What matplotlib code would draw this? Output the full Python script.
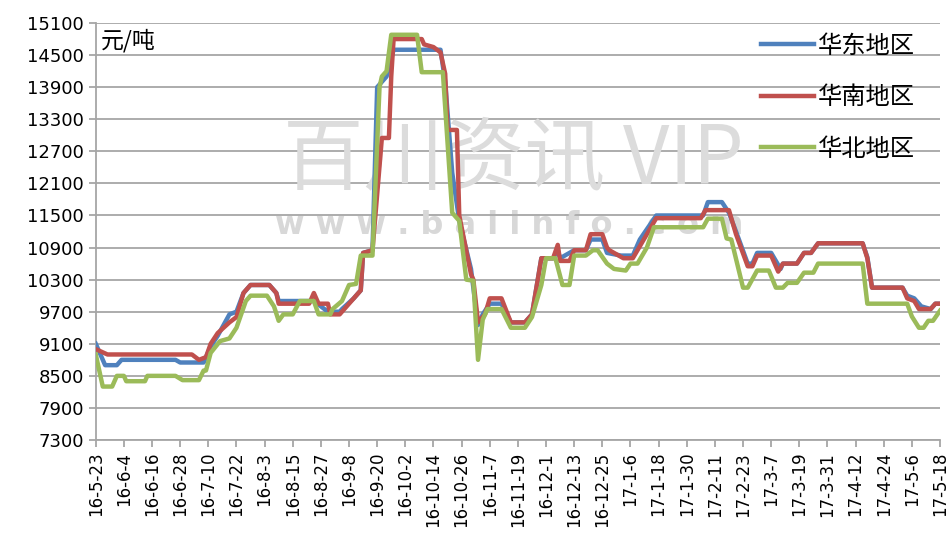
import numpy as np
import pandas as pd
from matplotlib import pyplot as plt

plt.rcParams['font.family'] = ['Noto Sans CJK SC', 'DejaVu Sans']

start = pd.Timestamp('2016-05-23')

# 华东地区: 日数(从16-5-23起), 价格
east_day = [0, 4, 9, 11, 34, 36, 46, 49, 52, 57, 60, 63, 66, 74, 77, 78, 93, 99, 104, 105,
            110, 113, 114, 118, 120, 124, 127, 142, 147, 149, 152, 155, 160, 163, 165, 168,
            173, 177, 183, 186, 190, 195, 197, 198, 202, 204, 209, 211, 216, 218, 224, 229,
            232, 239, 259, 261, 267, 270, 273, 278, 280, 282, 288, 292, 293, 299, 302, 305,
            308, 327, 329, 331, 344, 346, 349, 352, 356, 358, 360]
east_val = [9100, 8700, 8700, 8800, 8800, 8750, 8750, 9050, 9250, 9650, 9700, 10050, 10200,
            10200, 10050, 9900, 9900, 9700, 9700, 9750, 9950, 10100, 10800, 10850, 13900,
            14100, 14600, 14600, 14600, 14000, 12300, 11400, 10500, 9450, 9650, 9850, 9850,
            9500, 9500, 9650, 10700, 10700, 10850, 10700, 10800, 10850, 10850, 11050, 11050,
            10800, 10750, 10750, 11050, 11500, 11500, 11750, 11750, 11550, 11200, 10600,
            10600, 10800, 10800, 10500, 10600, 10600, 10800, 10800, 10980, 10980, 10720,
            10150, 10150, 10000, 9950, 9800, 9750, 9850, 9850]

# 华南地区
south_day = [0, 5, 41, 44, 47, 49, 52, 57, 60, 63, 66, 74, 77, 78, 91, 93, 95, 99, 100, 104,
             105, 110, 113, 114, 118, 122, 125, 126, 127, 139, 140, 144, 147, 149, 150, 154,
             155, 160, 161, 163, 166, 168, 173, 177, 183, 186, 190, 195, 197, 198, 202, 204,
             209, 211, 216, 218, 219, 225, 229, 233, 239, 258, 260, 270, 273, 278, 280, 282,
             288, 291, 293, 299, 302, 305, 308, 327, 329, 331, 344, 346, 349, 351, 356, 358,
             360]
south_val = [9000, 8900, 8900, 8800, 8850, 9100, 9300, 9500, 9600, 10050, 10200, 10200, 10050,
             9850, 9850, 10050, 9850, 9850, 9650, 9650, 9700, 9950, 10100, 10800, 10850, 12950,
             12950, 14100, 14800, 14800, 14700, 14650, 14550, 14150, 13100, 13100, 11500,
             10400, 10300, 9500, 9650, 9950, 9950, 9500, 9500, 9650, 10700, 10700, 10950,
             10650, 10650, 10850, 10850, 11150, 11150, 10900, 10850, 10700, 10700, 11000,
             11450, 11450, 11600, 11600, 11150, 10550, 10550, 10750, 10750, 10450, 10600,
             10600, 10800, 10800, 10980, 10980, 10700, 10150, 10150, 9950, 9900, 9750, 9750,
             9850, 9850]

# 华北地区
north_day = [0, 3, 7, 9, 12, 13, 21, 22, 34, 37, 44, 46, 47, 49, 53, 57, 60, 64, 66, 73, 76,
             78, 80, 84, 87, 93, 95, 100, 101, 105, 108, 111, 113, 118, 121, 122, 124, 126,
             137, 139, 148, 152, 155, 158, 161, 163, 165, 167, 173, 177, 183, 186, 190, 192,
             196, 199, 202, 204, 209, 212, 214, 218, 221, 226, 228, 231, 235, 238, 259, 261,
             267, 269, 271, 276, 278, 282, 287, 290, 293, 295, 299, 302, 306, 308, 327, 329,
             346, 348, 351, 353, 355, 357, 360]
north_val = [8900, 8300, 8300, 8500, 8500, 8400, 8400, 8500, 8500, 8420, 8420, 8600, 8600,
             8930, 9150, 9200, 9400, 9900, 10000, 10000, 9800, 9530, 9650, 9650, 9900, 9900,
             9650, 9650, 9750, 9900, 10200, 10220, 10750, 10750, 13900, 14100, 14200, 14880,
             14880, 14180, 14180, 11550, 11400, 10300, 10280, 8800, 9550, 9750, 9750, 9400,
             9400, 9600, 10200, 10700, 10700, 10200, 10200, 10750, 10750, 10850, 10850, 10600,
             10500, 10470, 10600, 10600, 10900, 11280, 11280, 11440, 11440, 11070, 11050,
             10150, 10150, 10470, 10470, 10150, 10150, 10240, 10240, 10430, 10430, 10600,
             10600, 9850, 9850, 9610, 9400, 9400, 9530, 9530, 9720]

tick_days = np.arange(0, 361, 12)
tick_labels = [f"{(start + pd.Timedelta(days=int(d))).year % 100}-"
               f"{(start + pd.Timedelta(days=int(d))).month}-"
               f"{(start + pd.Timedelta(days=int(d))).day}" for d in tick_days]
y_ticks = np.arange(7300, 15101, 600)

fig = plt.figure(figsize=(9.48, 5.56), dpi=100)
ax = fig.add_axes([0.101, 0.2086, 0.8906, 0.75])

ax.plot(east_day, east_val, color='#4F81BD', lw=3.2, label='华东地区', zorder=3)
ax.plot(south_day, south_val, color='#C0504D', lw=3.2, label='华南地区', zorder=4)
ax.plot(north_day, north_val, color='#9BBB59', lw=3.2, label='华北地区', zorder=5)

# 水印
ax.text(0.495, 0.67, '百川资讯 VIP', transform=ax.transAxes, ha='center', va='center',
        fontsize=58, color='#dcdcdc', fontweight='light', zorder=2)
ax.text(0.49, 0.515, 'w w w . b a i i n f o . c o m', transform=ax.transAxes,
        ha='center', va='center', fontsize=23, color='#d8d8d8', fontweight='bold',
        family='DejaVu Sans', zorder=2)

ax.text(0.006, 0.985, '元/吨', transform=ax.transAxes, ha='left', va='top', fontsize=16.5)

ax.set_xlim(0, 360)
ax.set_ylim(7300, 15100)
ax.set_xticks(tick_days)
ax.set_xticklabels(tick_labels, rotation=90, fontsize=12, family='DejaVu Sans')
ax.set_yticks(y_ticks)
ax.set_yticklabels([str(v) for v in y_ticks], fontsize=13, family='DejaVu Sans')
ax.grid(axis='y', color='#a6a6a6', lw=1.3)
ax.set_axisbelow(True)
ax.tick_params(axis='both', direction='out', length=5, color='#a6a6a6', width=1.3)
for s in ['top', 'right']:
    ax.spines[s].set_visible(False)
for s in ['left', 'bottom']:
    ax.spines[s].set_color('#a6a6a6')
    ax.spines[s].set_linewidth(1.3)

ax.legend(loc='upper right', bbox_to_anchor=(0.982, 1.0), frameon=False, fontsize=17.5,
          handlelength=2.2, labelspacing=1.05, handletextpad=0.15, borderaxespad=0.0)

plt.savefig('out.png', dpi=100)
